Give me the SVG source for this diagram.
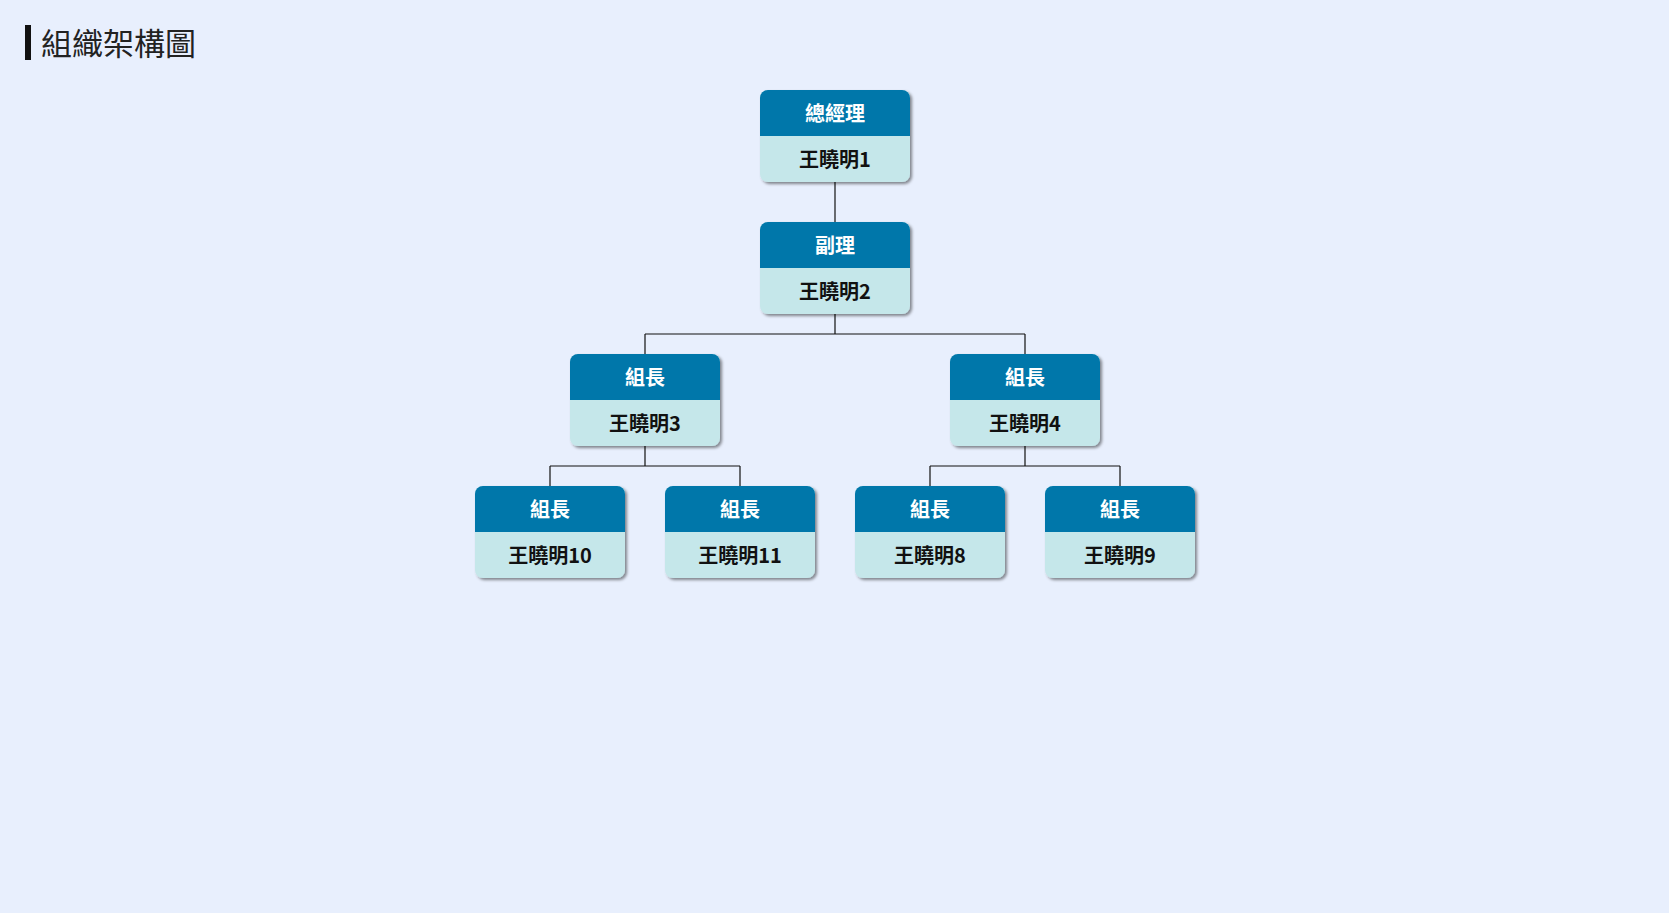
<svg xmlns="http://www.w3.org/2000/svg" width="1669" height="913" viewBox="0 0 1669 913">
<defs>
<filter id="sh" x="-10%" y="-10%" width="130%" height="130%">
<feDropShadow dx="2" dy="2" stdDeviation="1.5" flood-color="#000" flood-opacity="0.45"/>
</filter>
<clipPath id="cp"><rect x="0" y="0" width="150" height="92" rx="8" ry="8"/></clipPath>
</defs>
<style>
.hd{fill:#0077aa}
.bd{fill:#c5e7ea}
.ht{font-family:"Noto Sans CJK TC","Noto Sans CJK SC",sans-serif;font-size:20px;font-weight:bold;fill:#ffffff;text-anchor:middle;dominant-baseline:central}
.bt{font-family:"Noto Sans CJK TC","Noto Sans CJK SC",sans-serif;font-size:20px;font-weight:bold;fill:#111111;text-anchor:middle;dominant-baseline:central}
.ln{fill:none;stroke:#111;stroke-width:1.2}
</style>
<rect width="1669" height="913" fill="#e8effd"/>
<rect x="25" y="25" width="6" height="35" fill="#111"/>
<text x="41" y="41" font-family="'Noto Sans CJK TC','Noto Sans CJK SC',sans-serif" font-size="31" fill="#222" dominant-baseline="central">組織架構圖</text>
<g id="connectors">
<path class="ln" d="M835 182V222"/>
<path class="ln" d="M835 314V334M645 334H1025M645 334V354M1025 334V354"/>
<path class="ln" d="M645 446V466M550 466H740M550 466V486M740 466V486"/>
<path class="ln" d="M1025 446V466M930 466H1120M930 466V486M1120 466V486"/>
</g>
<g id="n1" transform="translate(760,90)"><g filter="url(#sh)"><g clip-path="url(#cp)"><rect class="bd" width="150" height="92"/><rect class="hd" width="150" height="46"/></g></g><text class="ht" x="75" y="22">總經理</text><text class="bt" x="75" y="68">王曉明1</text></g>
<g id="n2" transform="translate(760,222)"><g filter="url(#sh)"><g clip-path="url(#cp)"><rect class="bd" width="150" height="92"/><rect class="hd" width="150" height="46"/></g></g><text class="ht" x="75" y="22">副理</text><text class="bt" x="75" y="68">王曉明2</text></g>
<g id="n3" transform="translate(570,354)"><g filter="url(#sh)"><g clip-path="url(#cp)"><rect class="bd" width="150" height="92"/><rect class="hd" width="150" height="46"/></g></g><text class="ht" x="75" y="22">組長</text><text class="bt" x="75" y="68">王曉明3</text></g>
<g id="n4" transform="translate(950,354)"><g filter="url(#sh)"><g clip-path="url(#cp)"><rect class="bd" width="150" height="92"/><rect class="hd" width="150" height="46"/></g></g><text class="ht" x="75" y="22">組長</text><text class="bt" x="75" y="68">王曉明4</text></g>
<g id="n10" transform="translate(475,486)"><g filter="url(#sh)"><g clip-path="url(#cp)"><rect class="bd" width="150" height="92"/><rect class="hd" width="150" height="46"/></g></g><text class="ht" x="75" y="22">組長</text><text class="bt" x="75" y="68">王曉明10</text></g>
<g id="n11" transform="translate(665,486)"><g filter="url(#sh)"><g clip-path="url(#cp)"><rect class="bd" width="150" height="92"/><rect class="hd" width="150" height="46"/></g></g><text class="ht" x="75" y="22">組長</text><text class="bt" x="75" y="68">王曉明11</text></g>
<g id="n8" transform="translate(855,486)"><g filter="url(#sh)"><g clip-path="url(#cp)"><rect class="bd" width="150" height="92"/><rect class="hd" width="150" height="46"/></g></g><text class="ht" x="75" y="22">組長</text><text class="bt" x="75" y="68">王曉明8</text></g>
<g id="n9" transform="translate(1045,486)"><g filter="url(#sh)"><g clip-path="url(#cp)"><rect class="bd" width="150" height="92"/><rect class="hd" width="150" height="46"/></g></g><text class="ht" x="75" y="22">組長</text><text class="bt" x="75" y="68">王曉明9</text></g>
</svg>
